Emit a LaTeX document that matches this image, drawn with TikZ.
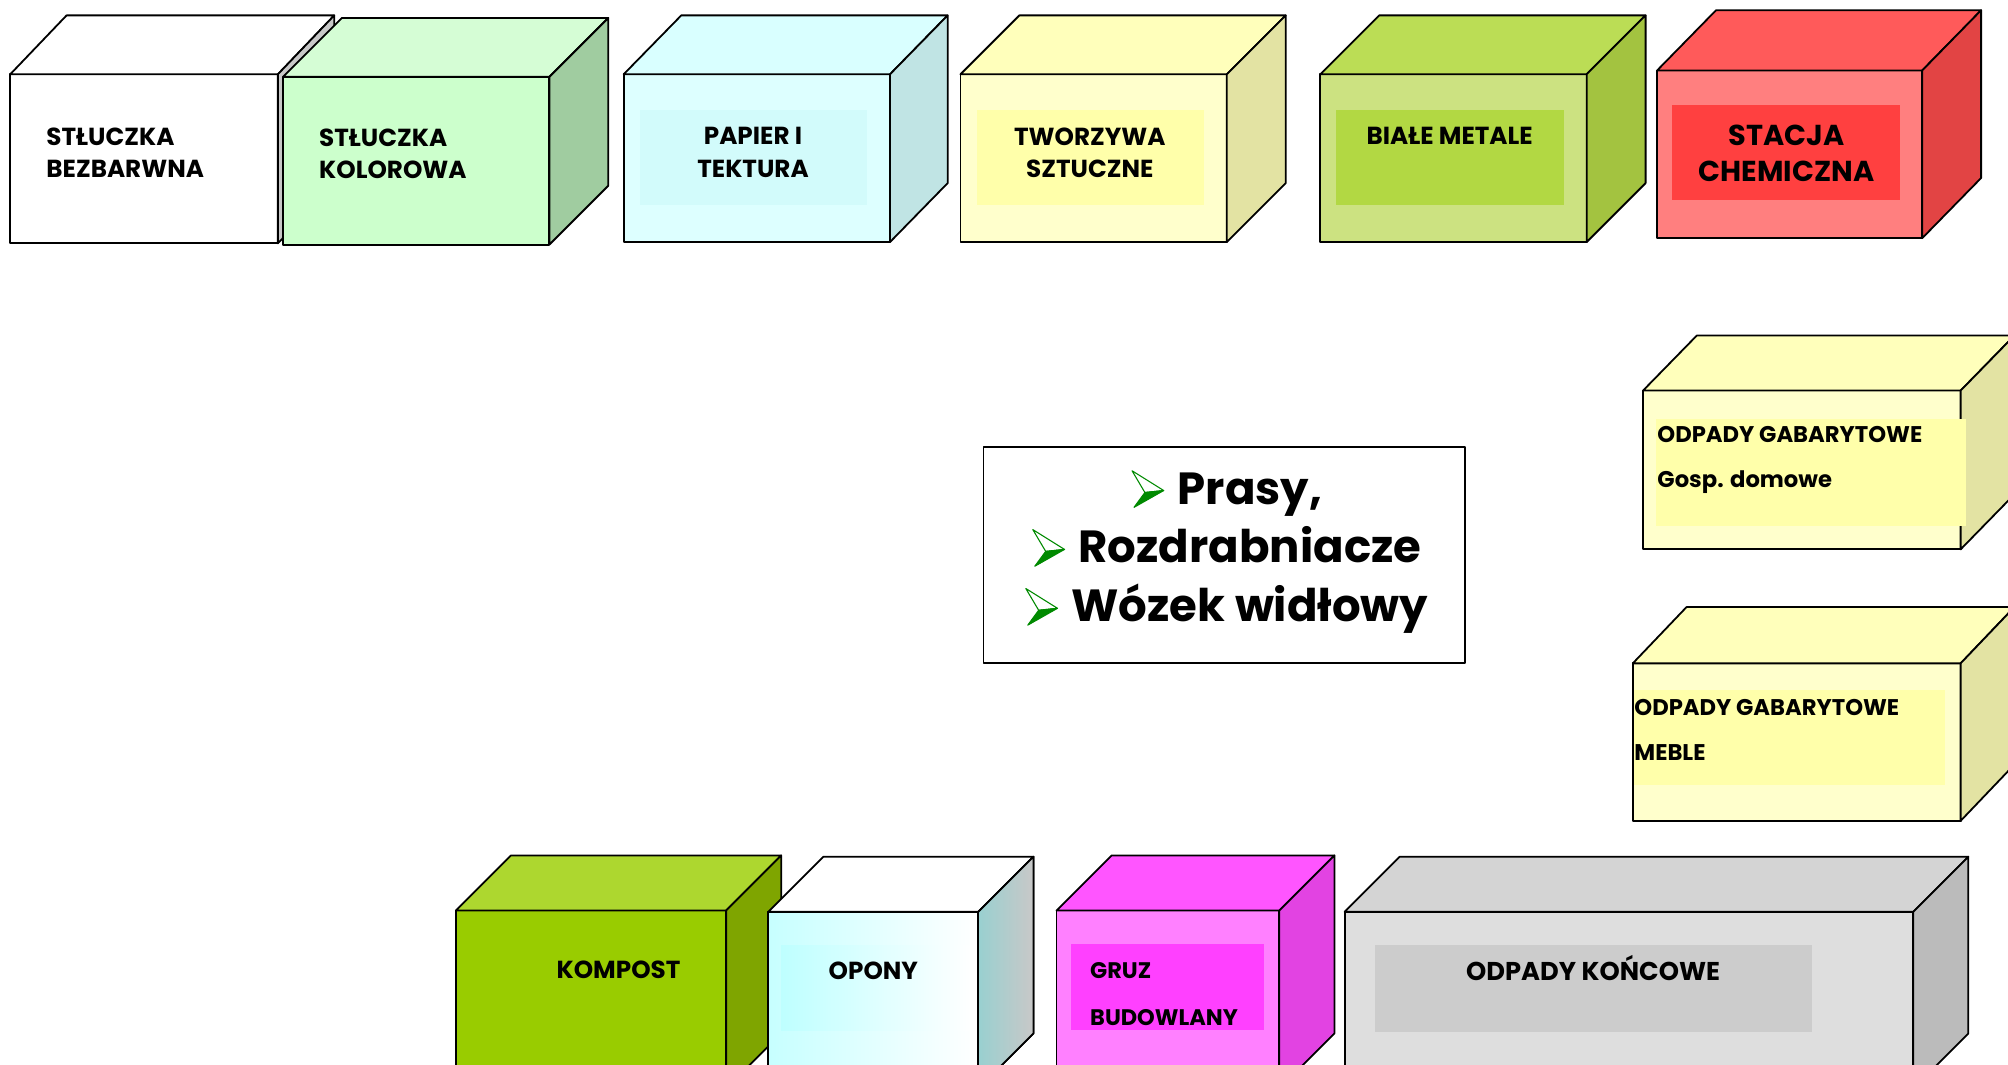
\documentclass[tikz,border=0pt]{standalone}
\usepackage{fontspec}
\setmainfont{Poppins}
\definecolor{kgrayS}{HTML}{C8C8C8}
\definecolor{kgreenF}{HTML}{CCFFCC}
\definecolor{kgreenT}{HTML}{D5FDD5}
\definecolor{kgreenS}{HTML}{A0CCA0}
\definecolor{kcyanF}{HTML}{DDFFFF}
\definecolor{kcyanT}{HTML}{D9FFFF}
\definecolor{kcyanS}{HTML}{C0E4E4}
\definecolor{kcyanI}{HTML}{D2FBFB}
\definecolor{kyelF}{HTML}{FFFFCC}
\definecolor{kyelT}{HTML}{FFFFBB}
\definecolor{kyelS}{HTML}{E3E3A3}
\definecolor{kyelI}{HTML}{FFFFAA}
\definecolor{klimeF}{HTML}{CCE281}
\definecolor{klimeT}{HTML}{BBDD55}
\definecolor{klimeS}{HTML}{A3C340}
\definecolor{klimeI}{HTML}{B2D843}
\definecolor{kredF}{HTML}{FF7F7F}
\definecolor{kredT}{HTML}{FF5A5A}
\definecolor{kredS}{HTML}{E24444}
\definecolor{kredI}{HTML}{FF4040}
\definecolor{kolivF}{HTML}{99CC00}
\definecolor{kolivT}{HTML}{ADD72F}
\definecolor{kolivS}{HTML}{7FA500}
\definecolor{kpinkF}{HTML}{FF80FF}
\definecolor{kpinkT}{HTML}{FF55FF}
\definecolor{kpinkS}{HTML}{E243E2}
\definecolor{kpinkI}{HTML}{FF40FF}
\definecolor{kgrayF}{HTML}{DEDEDE}
\definecolor{kgrayT}{HTML}{D4D4D4}
\definecolor{kgrayB}{HTML}{BBBBBB}
\definecolor{kgrayI}{HTML}{CCCCCC}
\definecolor{kbul}{HTML}{008A00}
\newcommand{\kbullet}{\tikz[baseline=-0.3em,x=1.1pt,y=1.1pt]{%
\filldraw[draw=kbul,fill=white,line width=0.6pt](0,10)--(16,0)--(6.5,-1)--cycle;
\filldraw[draw=kbul,fill=kbul,line width=0.6pt](6.5,-1)--(16,0)--(1,-8.5)--cycle;}\hspace{0.3em}}
\begin{document}
\begin{tikzpicture}[x=0.025cm,y=-0.025cm,line join=round,
  kface/.style={draw=black,line width=1pt},
  klab/.style={font=\bfseries\fontsize{13.7}{17.8}\selectfont,inner sep=0pt},
  kbig/.style={font=\bfseries\fontsize{25}{32.7}\selectfont,inner sep=0pt,align=center}]
\useasboundingbox (0,0) rectangle (1568,831);
\clip (0,0) rectangle (1568,831);
% boxes: front x1/y1/x2/y2, depth, colours front/top/side
\foreach \xa/\ya/\xb/\yb/\kdx/\kdy/\cf/\ct/\cs in {
  8/58/217/190/44/46/white/white/kgrayS,
  221/60/429/191/46/46/kgreenF/kgreenT/kgreenS,
  487/58/695/189/45/46/kcyanF/kcyanT/kcyanS,
  750/58/958/189/46/46/kyelF/kyelT/kyelS,
  1031/58/1239/189/46/46/klimeF/klimeT/klimeS,
  1294/55/1501/186/46/47/kredF/kredT/kredS,
  1283/305/1531/429/42/43/kyelF/kyelT/kyelS,
  1275/518/1531/641/42/44/kyelF/kyelT/kyelS,
  356/711/567/850/43/43/kolivF/kolivT/kolivS,
  600/712/764/850/43/43/white/white/kcyanS,
  825/711/999/850/43/43/kpinkF/kpinkT/kpinkS,
  1050/712/1494/850/43/43/kgrayF/kgrayT/kgrayB}{
  \draw[kface,fill=\cf](\xa,\ya) rectangle (\xb,\yb);
  \draw[kface,fill=\ct](\xa,\ya)--(\xa+\kdx,\ya-\kdy)--(\xb+\kdx,\ya-\kdy)--(\xb,\ya)--cycle;
  \draw[kface,fill=\cs](\xb,\ya)--(\xb+\kdx,\ya-\kdy)--(\xb+\kdx,\yb-\kdy)--(\xb,\yb)--cycle;
}
% tyres: shaded faces
\shade[left color=kcyanF!90!cyan,right color=white](600.6,712.6) rectangle (763.4,831);
\shade[left color=kcyanS!80!teal,right color=kgrayS](764.5,712)--(806.5,669.5)--(806.5,807)--(764.5,850)--cycle;
\draw[kface](600,712) rectangle (764,850);
\draw[kface](764,712)--(807,669)--(807,807)--(764,850);
% label plates
\foreach \xa/\ya/\xb/\yb/\ci in {500/86/677/160/kcyanI, 763/86/940/160/kyelI,
  1043/86/1221/160/klimeI, 1306/82/1484/156/kredI, 1293/327/1535/411/kyelI,
  1276/539/1519/613/kyelI, 836/737/987/804/kpinkI, 1074/738/1415/806/kgrayI}{
  \fill[\ci](\xa,\ya) rectangle (\xb,\yb);
}
\shade[left color=kcyanF!85!cyan,right color=white,opacity=0.8](610,738) rectangle (757,805);
\node[klab,anchor=west,align=left] (bezbarwna) at (36,119) {STŁUCZKA\\BEZBARWNA};
\node[klab,anchor=west,align=left] (kolorowa) at (249,120) {STŁUCZKA\\KOLOROWA};
\node[klab,align=center] (papier) at (588,119) {PAPIER I\\TEKTURA};
\node[klab,align=center] (tworzywa) at (851,119) {TWORZYWA\\SZTUCZNE};
\node[klab] (metale) at (1132,106) {BIAŁE METALE};
\node[klab,align=center,font=\bfseries\fontsize{16}{20}\selectfont] (chemia) at (1395,120) {STACJA\\CHEMICZNA};
\node[klab,anchor=west,align=left,font=\bfseries\fontsize{12.6}{25}\selectfont] (domowe) at (1294,359) {ODPADY GABARYTOWE\\Gosp. domowe};
\node[klab,anchor=west,align=left,font=\bfseries\fontsize{12.6}{25}\selectfont] (meble) at (1276,570) {ODPADY GABARYTOWE\\MEBLE};
\node[klab] (kompost) at (483,757) {KOMPOST};
\node[klab] (opony) at (682,758) {OPONY};
\node[klab,anchor=west,align=left,font=\bfseries\fontsize{12.5}{26}\selectfont] (gruz) at (851,776) {GRUZ\\BUDOWLANY};
\node[klab,font=\bfseries\fontsize{14.3}{17.8}\selectfont] (koncowe) at (1244,756) {ODPADY KOŃCOWE};
% machines
\draw[line width=1pt,fill=white](768,349) rectangle (1144,518);
\node[kbig] (maszyny) at (958,431) {\kbullet Prasy,\\\kbullet Rozdrabniacze\\\kbullet Wózek widłowy};
\end{tikzpicture}
\end{document}
